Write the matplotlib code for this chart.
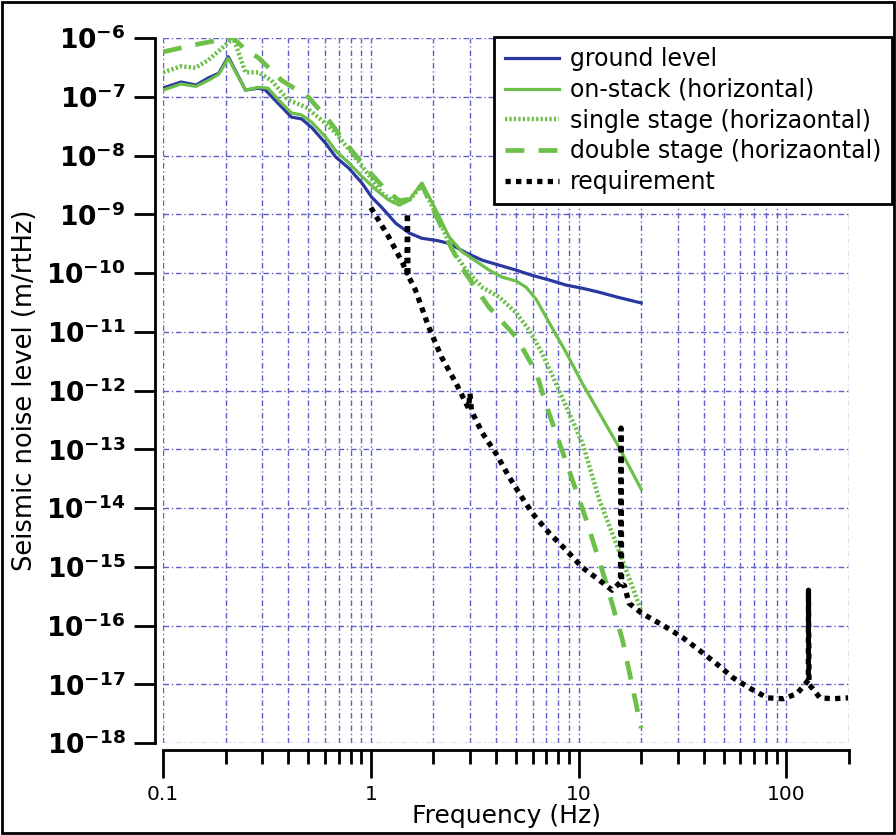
import matplotlib
matplotlib.use("Agg")
import matplotlib.pyplot as plt
from matplotlib.patches import Rectangle

plt.rcParams['font.family'] = ['DejaVu Sans']

# ground level
f_ground = [0.1, 0.122, 0.144, 0.165, 0.185, 0.206, 0.249, 0.288, 0.311, 0.372, 0.415,
            0.464, 0.519, 0.607, 0.678, 0.783, 0.906, 1.01, 1.13, 1.32, 1.53, 1.76,
            2.06, 2.38, 2.88, 3.44, 4.15, 5.01, 6.0, 7.24, 8.75, 10.45, 12.6, 15.3, 20]
ground = [1.41e-7, 1.78e-7, 1.58e-7, 2.09e-7, 2.5e-7, 4.8e-7, 1.3e-7, 1.4e-7, 1.3e-7,
          6.7e-8, 4.5e-8, 4.2e-8, 3.0e-8, 1.6e-8, 9.4e-9, 6.1e-9, 3.4e-9, 1.95e-9,
          1.3e-9, 7.0e-10, 4.8e-10, 3.9e-10, 3.6e-10, 3.2e-10, 2.2e-10, 1.65e-10,
          1.36e-10, 1.12e-10, 9.1e-11, 7.6e-11, 6.2e-11, 5.5e-11, 4.7e-11, 3.9e-11, 3.1e-11]

# on-stack (horizontal)
f_stack = [0.1, 0.122, 0.144, 0.165, 0.185, 0.206, 0.249, 0.288, 0.32, 0.372, 0.415,
           0.464, 0.519, 0.607, 0.678, 0.783, 0.906, 1.06, 1.22, 1.37, 1.53, 1.76,
           2.06, 2.38, 2.75, 3.21, 3.71, 4.29, 5.01, 5.6, 6.27, 7.24, 8.75, 10.45,
           12.6, 15.3, 20]
stack = [1.3e-7, 1.65e-7, 1.5e-7, 1.9e-7, 2.4e-7, 4.5e-7, 1.3e-7, 1.45e-7, 1.4e-7,
         7.8e-8, 5.3e-8, 4.9e-8, 3.7e-8, 2.05e-8, 1.2e-8, 7.5e-9, 4.4e-9, 2.6e-9,
         1.74e-9, 1.43e-9, 1.74e-9, 3.4e-9, 1.17e-9, 4.1e-10, 2.3e-10, 1.59e-10,
         1.12e-10, 8.5e-11, 7.3e-11, 5.7e-11, 3.5e-11, 1.4e-11, 4.3e-12, 1.3e-12,
         4.1e-13, 1.25e-13, 2.1e-14]

# single stage (horizaontal)
f_single = [0.1, 0.122, 0.143, 0.165, 0.188, 0.218, 0.249, 0.288, 0.332, 0.4, 0.485,
            0.58, 0.678, 0.81, 0.94, 1.13, 1.32, 1.53, 1.76, 2.13, 2.47, 2.88, 3.44,
            4.15, 5.01, 5.78, 6.67, 7.8, 9.0, 10.45, 12.6, 15.8, 20]
single = [2.6e-7, 3.3e-7, 3.1e-7, 4.2e-7, 6.3e-7, 1.0e-6, 2.6e-7, 2.6e-7, 1.9e-7,
          8.8e-8, 6.7e-8, 4.0e-8, 2.4e-8, 1.1e-8, 5.6e-9, 2.3e-9, 1.55e-9, 1.74e-9,
          3.1e-9, 7.9e-10, 2.45e-10, 1.12e-10, 5.7e-11, 3.9e-11, 2.1e-11, 1.07e-11,
          4.3e-12, 1.3e-12, 4.1e-13, 1.26e-13, 1.35e-14, 1.7e-15, 1.8e-16]

# double stage (horizaontal)
f_double = [0.1, 0.148, 0.188, 0.218, 0.249, 0.288, 0.372, 0.5, 0.626, 0.783, 0.94,
            1.18, 1.37, 1.53, 1.76, 2.06, 2.38, 2.75, 3.71, 5.01, 6.27, 6.98, 8.75,
            10.9, 13.6, 16.3, 20]
double = [5.8e-7, 7.9e-7, 9.3e-7, 1.0e-6, 6.3e-7, 4.6e-7, 1.9e-7, 9.9e-8, 4.0e-8,
          1.4e-8, 6.3e-9, 2.6e-9, 1.7e-9, 1.8e-9, 3.2e-9, 9.5e-10, 3.2e-10, 1.2e-10,
          2.6e-11, 8.1e-12, 2.0e-12, 5.6e-13, 5.8e-14, 6.2e-15, 5.2e-16, 5.5e-17, 1.8e-18]

# requirement
f_req = [1.0, 1.22, 1.42, 1.49, 1.5, 1.51, 1.55, 1.64, 1.9, 2.19, 2.58, 2.95, 3.0, 3.05,
         3.44, 4.0, 4.65, 5.35, 6.0, 7.25, 8.75, 10.4, 12.6, 14.5, 15.9, 16.0, 16.1,
         16.6, 17.5, 20, 26.5, 31.6, 38.5, 46.4, 55.3, 67.1, 80.9, 96.4, 112, 123,
         127.5, 127.7, 128.5, 133, 145, 168, 198]
req = [1.3e-9, 4.1e-10, 1.5e-10, 1.0e-10, 1.05e-9, 9.0e-11, 7.6e-11, 5.1e-11, 1.2e-11,
       3.7e-12, 1.3e-12, 5.0e-13, 9.0e-13, 4.5e-13, 1.9e-13, 8.5e-14, 3.3e-14,
       1.5e-14, 8.1e-15, 3.7e-15, 1.9e-15, 9.8e-16, 5.9e-16, 4.0e-16, 5.5e-16,
       2.3e-13, 5.0e-16, 4.8e-16, 2.4e-16, 1.65e-16, 9.3e-17, 6.3e-17, 3.7e-17,
       2.2e-17, 1.3e-17, 8.5e-18, 5.9e-18, 5.7e-18, 6.9e-18, 1.0e-17, 1.2e-17,
       4.0e-16, 1.0e-17, 8.7e-18, 5.9e-18, 5.7e-18, 5.9e-18]

xticks = [0.1, 1, 10, 100]
xtick_labels = ["0.1", "1", "10", "100"]
yexps = list(range(-18, -5))

blue = "#2a38a0"
green = "#6cc04a"

fig = plt.figure(figsize=(8.96, 8.35), dpi=100)
fig.patches.append(Rectangle((0.002, 0.002), 0.996, 0.996, transform=fig.transFigure,
                             fill=False, edgecolor="black", linewidth=2))
ax = fig.add_axes([0.182, 0.110, 0.7655, 0.8445])

ax.plot(f_ground, ground, color=blue, lw=2.3, label="ground level")
ax.plot(f_stack, stack, color=green, lw=2.3, label="on-stack (horizontal)")
ax.plot(f_single, single, color=green, lw=3.2, linestyle=(0, (0.5, 0.5)),
        label="single stage (horizaontal)")
ax.plot(f_double, double, color=green, lw=3.4, linestyle=(0, (4, 3)),
        label="double stage (horizaontal)")
ax.plot(f_req, req, color="black", lw=3.8, linestyle=(0, (1, 1)), label="requirement")

ax.set_xscale("log")
ax.set_yscale("log")
ax.set_xlim(0.1, 200)
ax.set_ylim(1e-18, 1e-6)
ax.set_yticks([10.0 ** e for e in yexps])
ax.yaxis.set_minor_locator(matplotlib.ticker.NullLocator())

ax.grid(True, which="major", axis="both", color="#6060c8", lw=1.0, linestyle=(0, (4, 2, 1, 2)))
ax.grid(True, which="minor", axis="x", color="#6060c8", lw=1.0, linestyle=(0, (4, 2, 1, 2)))

for s in ["top", "right"]:
    ax.spines[s].set_visible(False)
ax.spines["left"].set_position(("outward", 6))
ax.spines["bottom"].set_position(("outward", 5))
ax.spines["left"].set_linewidth(2)
ax.spines["bottom"].set_linewidth(2)

ax.tick_params(axis="y", which="major", length=15, width=2, labelsize=19, pad=6)
ax.tick_params(axis="x", which="major", length=20, width=2, labelsize=14.5, pad=5)
ax.tick_params(axis="x", which="minor", length=10, width=2)
ax.set_xticks(xticks)
ax.set_xticklabels(xtick_labels)
ax.xaxis.set_minor_formatter(matplotlib.ticker.NullFormatter())
ax.set_yticklabels([r"$\mathbf{10^{%d}}$" % e for e in yexps])

ax.set_xlabel("Frequency (Hz)", fontsize=18, labelpad=0)
ax.set_ylabel("Seismic noise level (m/rtHz)", fontsize=18.5, labelpad=6)

leg = ax.legend(loc="upper right", bbox_to_anchor=(0.995, 0.956), bbox_transform=fig.transFigure,
                fontsize=17, frameon=True, fancybox=False, borderaxespad=0,
                handlelength=2.3, labelspacing=0.28, borderpad=0.45, handletextpad=0.45)
leg.get_frame().set_edgecolor("black")
leg.get_frame().set_linewidth(2)
leg.get_frame().set_alpha(1)

fig.savefig("out.png", dpi=100)
